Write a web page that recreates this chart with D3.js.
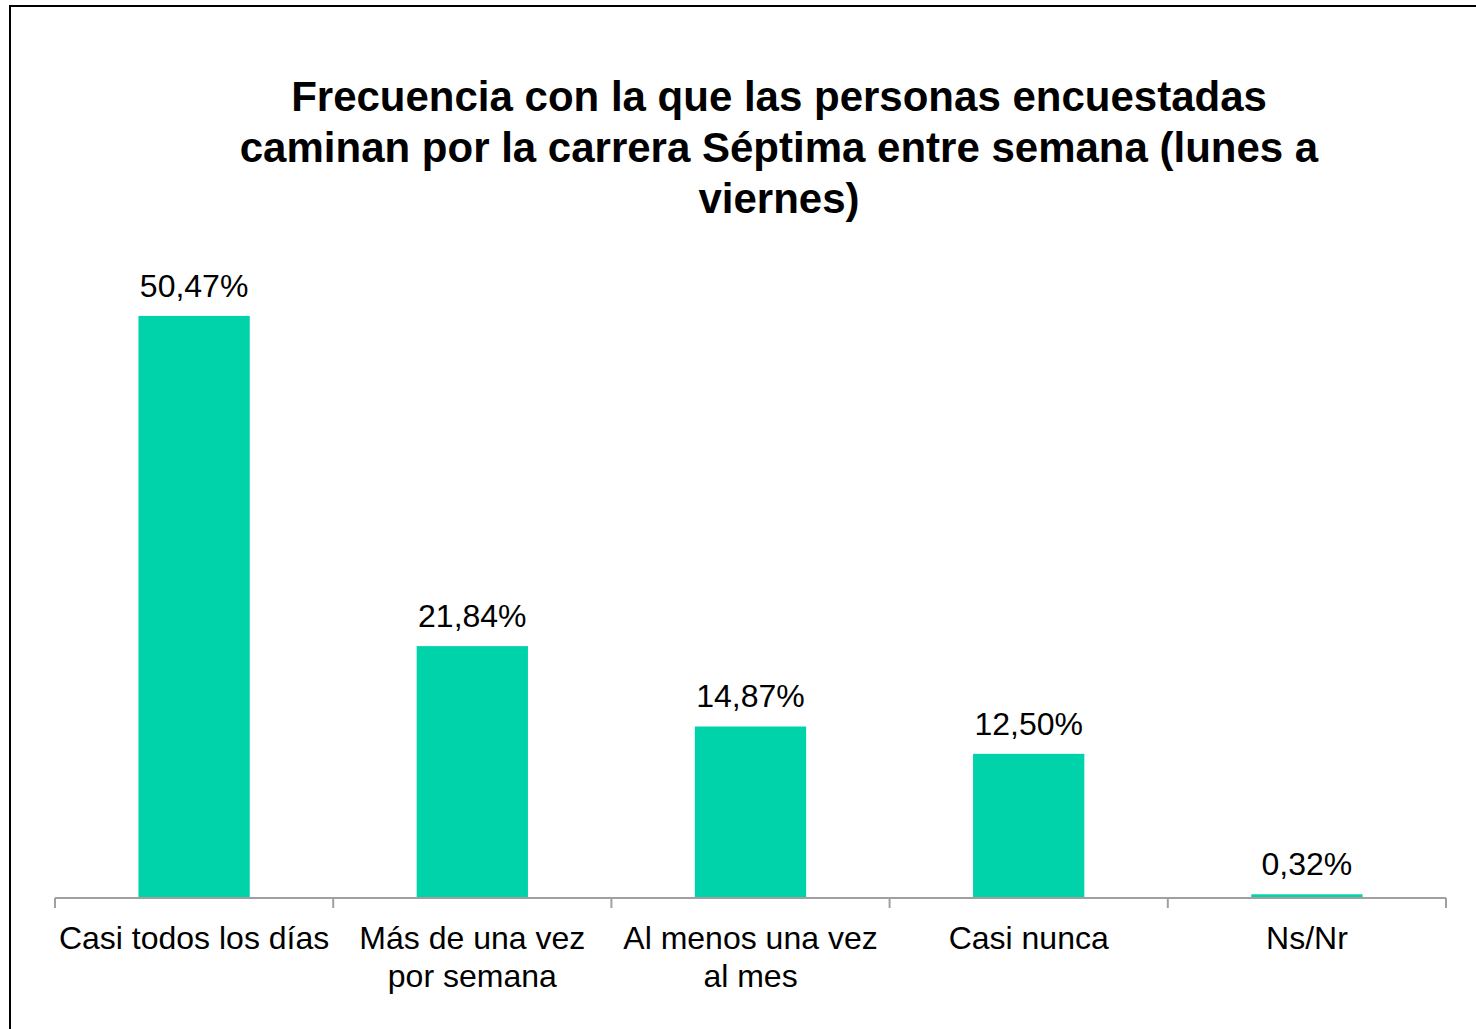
<!DOCTYPE html>
<html lang="es">
<head>
<meta charset="UTF-8">
<title>Frecuencia carrera Séptima</title>
<script src="https://d3js.org/d3.v7.min.js"></script>
<style>
  body { margin: 0; background: #fff; }
  text { font-family: "Liberation Sans", Arial, sans-serif; }
</style>
</head>
<body>
<div id="chart"></div>
<script>
// data
var categories = ["Casi todos los días", "Más de una vez por semana", "Al menos una vez al mes", "Casi nunca", "Ns/Nr"];
var catLines = [["Casi todos los días"], ["Más de una vez", "por semana"], ["Al menos una vez", "al mes"], ["Casi nunca"], ["Ns/Nr"]];
var values = [50.47, 21.84, 14.87, 12.50, 0.32];
var titleLines = ["Frecuencia con la que las personas encuestadas",
                  "caminan por la carrera Séptima entre semana (lunes a",
                  "viernes)"];

var W = 1476, H = 1029;
var svg = d3.select("#chart").append("svg")
    .attr("width", W).attr("height", H);

// outer frame
svg.append("rect")
    .attr("x", 10).attr("y", 6)
    .attr("width", W + 20).attr("height", H + 20)
    .attr("fill", "#fff").attr("stroke", "#000").attr("stroke-width", 2);

var x = d3.scaleBand().domain(categories).range([55, 1446]).paddingInner(0.6).paddingOuter(0.3);
var y = d3.scaleLinear().domain([0, 60]).range([898, 206]);

// title
svg.append("text")
    .attr("x", 779).attr("y", 111)
    .attr("text-anchor", "middle")
    .attr("font-size", 42).attr("font-weight", "bold")
    .selectAll("tspan").data(titleLines).enter().append("tspan")
    .attr("x", 779).attr("dy", function(d, i) { return i ? 51 : 0; })
    .text(function(d) { return d; });

// bars
svg.selectAll("rect.bar").data(values).enter().append("rect")
    .attr("class", "bar")
    .attr("x", function(d, i) { return x(categories[i]); })
    .attr("width", x.bandwidth())
    .attr("y", function(d) { return y(d); })
    .attr("height", function(d) { return y(0) - y(d); })
    .attr("fill", "#00D2AA");

// value labels
svg.selectAll("text.val").data(values).enter().append("text")
    .attr("class", "val")
    .attr("x", function(d, i) { return x(categories[i]) + x.bandwidth() / 2; })
    .attr("y", function(d) { return y(d) - 19; })
    .attr("text-anchor", "middle")
    .attr("font-size", 32)
    .text(function(d) { return d.toFixed(2).replace(".", ",") + "%"; });

// x axis: baseline plus category boundary ticks
var ticks = d3.range(categories.length + 1).map(function(i) { return 55 + i * x.step(); });
var ax = svg.append("g");
ax.append("line").attr("x1", 55).attr("x2", 1446).attr("y1", 898).attr("y2", 898)
    .attr("stroke", "#a0a0a0").attr("stroke-width", 2);
ax.selectAll("line.tick").data(ticks).enter().append("line")
    .attr("class", "tick")
    .attr("x1", function(d) { return d; }).attr("x2", function(d) { return d; })
    .attr("y1", 898).attr("y2", 908)
    .attr("stroke", "#a0a0a0").attr("stroke-width", 2);

// category labels
var lab = svg.selectAll("text.cat").data(catLines).enter().append("text")
    .attr("class", "cat")
    .attr("text-anchor", "middle")
    .attr("font-size", 32)
    .attr("y", 949);
lab.selectAll("tspan").data(function(d, i) { return d.map(function(t) { return {t: t, i: i}; }); })
    .enter().append("tspan")
    .attr("x", function(d) { return x(categories[d.i]) + x.bandwidth() / 2; })
    .attr("dy", function(d, j) { return j ? 38 : 0; })
    .text(function(d) { return d.t; });
</script>
</body>
</html>
